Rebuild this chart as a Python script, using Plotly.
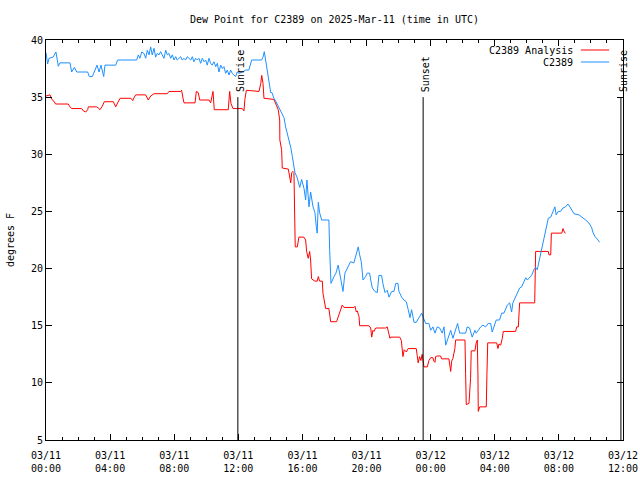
import pandas as pd
import plotly.graph_objects as go

# ---- data (hours after 2025-03-11 00:00 UTC, dew point in deg F) ----
obs_hours = [0.0, 0.1, 0.19, 0.44, 0.62, 0.69, 0.77, 0.87, 1.5, 1.6, 1.77, 1.92, 2.6, 2.7, 2.89, 3.01,
             3.18, 3.31, 3.43, 3.6, 3.68, 4.35, 4.47, 5.66, 5.76, 5.86, 5.97, 6.11, 6.22, 6.32, 6.43,
             6.53, 6.63, 6.74, 6.84, 6.94, 7.05, 7.15, 7.26, 7.36, 7.47, 7.57, 7.67, 7.78, 7.88, 7.99,
             8.09, 8.19, 8.3, 8.4, 8.5, 8.61, 8.71, 8.81, 8.92, 9.03, 9.13, 9.23, 9.34, 9.44, 9.54,
             9.65, 9.75, 9.86, 9.96, 10.06, 10.17, 10.27, 10.37, 10.48, 10.59, 10.69, 10.79, 10.9,
             11.0, 11.1, 11.21, 11.31, 11.42, 11.52, 11.62, 11.73, 11.83, 11.93, 12.04, 12.25, 12.46,
             12.66, 12.83, 13.45, 13.54, 13.62, 13.71, 13.81, 13.91, 14.02, 14.1, 14.22, 14.35, 14.53,
             14.64, 14.85, 14.95, 15.16, 15.27, 15.37, 15.47, 15.53, 15.66, 15.83, 15.95, 16.1, 16.2,
             16.28, 16.41, 16.51, 16.66, 16.78, 16.86, 16.92, 16.99, 17.07, 17.2, 17.65, 17.7, 17.78,
             17.97, 18.09, 18.23, 18.38, 18.53, 18.65, 18.8, 19.0, 19.21, 19.36, 19.48, 19.57, 19.67,
             19.78, 19.94, 20.04, 20.19, 20.26, 20.36, 20.52, 20.67, 20.77, 20.94, 21.02, 21.15, 21.29,
             21.4, 21.57, 21.71, 21.82, 21.96, 22.02, 22.19, 22.33, 22.48, 22.6, 22.71, 22.81, 22.96,
             23.1, 23.27, 23.44, 23.54, 23.69, 23.89, 24.0, 24.14, 24.27, 24.41, 24.56, 24.72, 24.83,
             24.94, 25.1, 25.25, 25.39, 25.56, 25.68, 25.81, 26.18, 26.28, 26.43, 26.59, 26.76, 26.84,
             26.97, 27.12, 27.26, 27.43, 27.59, 27.74, 27.84, 27.95, 28.09, 28.3, 28.43, 28.57, 28.68,
             28.78, 28.93, 29.05, 29.13, 29.26, 29.4, 29.55, 29.68, 29.82, 29.93, 30.03, 30.17, 30.3,
             30.44, 30.55, 30.65, 30.76, 30.86, 30.96, 31.07, 31.21, 31.34, 31.49, 31.59, 31.69, 31.75,
             31.83, 31.96, 32.11, 32.25, 32.42, 32.56, 32.73, 32.94, 33.25, 33.46, 33.67, 33.87, 34.04,
             34.12, 34.25, 34.39, 34.54]
obs_values = [38.9, 37.9, 38.4, 38.5, 38.95, 38.2, 37.7, 38.0, 38.0, 37.2, 37.6, 37.2, 37.2, 36.8, 36.8, 37.2,
              37.8, 37.2, 37.8, 36.8, 37.8, 37.8, 38.25, 38.25, 38.7, 38.4, 38.95, 38.83, 38.4, 39.1, 38.7,
              39.4, 38.7, 39.27, 38.5, 38.83, 38.7, 38.98, 38.7, 38.4, 39.1, 38.7, 38.83, 38.4, 38.7, 38.25,
              38.54, 38.25, 38.4, 38.54, 38.25, 38.4, 38.25, 38.54, 38.4, 38.25, 38.54, 38.1, 38.4, 38.25, 38.4,
              37.96, 38.4, 38.1, 38.25, 37.8, 38.4, 37.96, 37.8, 38.1, 37.67, 37.96, 37.2, 37.8,
              37.5, 37.67, 37.08, 37.37, 36.94, 37.37, 37.08, 36.94, 36.8, 37.2, 37.08, 37.2, 37.37,
              37.37, 38.25, 38.25, 38.5, 38.98, 38.25, 37.4, 36.5, 35.4, 35.4, 34.9, 34.6, 34.1,
              33.7, 33.2, 32.4, 31.25, 30.6, 29.8, 28.9, 28.4, 28.0, 27.1, 27.8, 27.0, 26.0,
              27.75, 25.4, 26.7, 25.4, 24.9, 23.7, 23.1, 25.8, 24.9, 24.25, 24.25, 21.6, 18.7,
              19.3, 19.6, 20.3, 19.0, 18.0, 19.6, 20.1, 20.6, 20.5, 21.2, 21.9, 21.2, 20.6,
              19.0, 19.3, 19.6, 19.6, 19.0, 18.3, 18.0, 17.9, 19.4, 19.4, 18.7, 17.9, 18.1,
              17.5, 18.0, 18.0, 18.7, 18.7, 18.0, 17.5, 17.25, 17.1, 16.4, 15.7, 16.4, 15.3,
              15.3, 15.7, 16.1, 15.7, 15.2, 15.2, 14.6, 14.9, 14.35, 14.9, 14.8, 14.35, 14.9,
              13.3, 14.0, 14.6, 13.9, 14.6, 15.2, 14.35, 14.35, 14.9, 14.8, 14.0, 14.6, 14.35,
              14.6, 14.9, 15.05, 14.9, 15.2, 15.2, 14.45, 14.9, 15.5, 15.5, 16.1, 16.1, 16.4,
              16.8, 17.0, 16.2, 17.0, 17.4, 17.8, 18.3, 18.4, 18.85, 19.2, 19.0, 19.2, 19.4,
              19.9, 20.1, 19.9, 20.6, 21.4, 22.1, 22.8, 23.6, 24.4, 24.5, 24.9, 25.3, 25.4,
              24.7, 25.0, 25.0, 25.3, 25.4, 25.65, 25.3, 24.8, 24.7, 24.5, 24.25, 24.0, 23.6,
              23.2, 22.8, 22.6, 22.3]

ana_hours = [0.0, 0.25, 0.36, 0.46, 0.6, 1.39, 1.5, 1.6, 2.23, 2.33, 2.48, 2.6, 2.64, 3.16, 3.26, 3.37,
             3.51, 3.64, 4.2, 4.35, 4.47, 4.62, 5.3, 5.41, 5.51, 5.6, 6.22, 6.38, 6.53, 6.74, 7.57,
             7.67, 8.4, 8.46, 8.55, 8.61, 9.3, 9.38, 9.5, 9.59, 10.17, 10.27, 10.42, 10.5, 11.37,
             11.46, 11.54, 11.67, 12.25, 12.35, 12.41, 12.5, 13.29, 13.4, 13.46, 13.54, 13.6, 14.22,
             14.37, 14.49, 14.58, 14.59, 14.7, 14.74, 15.12, 15.2, 15.27, 15.33, 15.41, 15.47, 15.53,
             15.55, 15.68, 15.78, 16.09, 16.2, 16.26, 16.36, 16.45, 16.51, 16.57, 16.78, 16.92, 16.99,
             17.07, 17.24, 17.28, 17.34, 17.45, 17.65, 17.7, 17.76, 18.13, 18.23, 18.28, 18.38, 18.48,
             18.59, 19.21, 19.28, 19.36, 19.42, 19.53, 19.57, 20.15, 20.26, 20.32, 20.4, 20.46, 20.57,
             21.19, 21.29, 21.4, 21.46, 21.5, 22.07, 22.17, 22.23, 22.27, 22.35, 22.48, 22.6, 23.1,
             23.16, 23.22, 23.31, 23.39, 23.47, 23.58, 23.79, 23.89, 24.0, 24.14, 24.2, 24.27, 24.31,
             24.41, 24.62, 24.68, 25.14, 25.2, 25.25, 25.31, 25.39, 25.45, 25.51, 25.56, 26.14, 26.18,
             26.22, 26.39, 26.49, 26.53, 26.76, 26.84, 26.91, 26.95, 26.97, 27.06, 27.47, 27.51, 27.56,
             28.12, 28.2, 28.26, 28.37, 28.47, 28.53, 29.3, 29.37, 29.47, 29.51, 29.55, 30.49, 30.5,
             30.55, 31.34, 31.38, 31.49, 31.53, 32.18, 32.26, 32.35, 32.42]
ana_values = [35.1, 35.2, 34.8, 34.7, 34.4, 34.4, 34.15, 34.0, 34.0, 33.8, 33.7, 33.9, 34.15, 34.15, 34.05, 33.9,
              34.2, 34.6, 34.6, 34.15, 34.5, 34.9, 34.9, 34.7, 35.0, 35.2, 35.2, 34.75, 35.1, 35.3, 35.3,
              35.5, 35.5, 35.6, 34.9, 34.5, 34.5, 35.5, 35.4, 34.75, 34.75, 34.5, 35.5, 33.9, 33.9,
              35.5, 34.45, 34.0, 34.0, 33.8, 34.8, 35.6, 35.5, 36.2, 36.9, 36.2, 34.9, 34.8,
              34.3, 33.9, 33.0, 31.25, 30.4, 28.8, 28.7, 28.0, 27.5, 28.4, 28.5, 28.4, 25.3,
              21.9, 21.9, 22.75, 22.75, 22.5, 21.5, 20.9, 21.5, 20.75, 19.1, 18.9, 18.9, 19.3,
              18.9, 18.9, 17.85, 17.25, 16.5, 16.5, 15.8, 15.35, 15.35, 15.8, 15.9, 16.4, 16.8,
              16.6, 16.6, 16.7, 16.2, 16.3, 15.8, 15.0, 15.0, 14.8, 14.0, 14.6, 14.5, 14.8,
              14.8, 14.9, 14.1, 13.9, 14.0, 14.0, 13.7, 13.0, 12.3, 12.9, 12.7, 13.0, 13.0,
              12.4, 11.75, 12.3, 11.95, 12.5, 11.4, 11.4, 11.95, 12.2, 12.2, 11.9, 11.8, 12.3,
              12.35, 12.35, 12.1, 12.1, 11.6, 11.0, 11.9, 12.15, 12.6, 13.0, 13.75, 13.75, 10.8,
              8.1, 8.2, 10.4, 12.8, 12.8, 13.5, 13.75, 10.7, 7.5, 7.9, 7.9, 10.7, 13.5,
              13.5, 13.0, 13.4, 13.3, 13.9, 14.5, 14.5, 14.9, 14.9, 16.1, 17.0, 17.0, 19.3,
              21.5, 21.5, 21.2, 21.2, 23.1, 23.1, 23.5, 23.15, 23.1]

sun_events = ["Sunrise", "Sunset", "Sunrise"]
sun_hours = [11.97, 23.53, 35.87]

series_names = ["C2389 Analysis", "C2389"]
series_colors = ["#ff0000", "#1e90ff"]

base = pd.Timestamp("2025-03-11 00:00")
def to_time(hours):
    return [base + pd.Timedelta(hours=h) for h in hours]

FONT = "DejaVu Sans Mono"
fig = go.Figure()
fig.add_trace(go.Scatter(x=to_time(ana_hours), y=ana_values, mode="lines",
                         line=dict(color=series_colors[0], width=1), name=series_names[0]))
fig.add_trace(go.Scatter(x=to_time(obs_hours), y=obs_values, mode="lines",
                         line=dict(color=series_colors[1], width=1), name=series_names[1]))

# sunrise / sunset markers
for name, h in zip(sun_events, sun_hours):
    t = base + pd.Timedelta(hours=h)
    fig.add_shape(type="line", xref="x", yref="y", x0=t, x1=t, y0=5, y1=35,
                  line=dict(color="black", width=1))
    fig.add_annotation(x=t, y=35, xref="x", yref="y", text=name, showarrow=False,
                       textangle=-90, xanchor="center", yanchor="bottom", xshift=2, yshift=3,
                       font=dict(family=FONT, size=10, color="black"))

# key (text to the left of line sample, like gnuplot)
key_rows = [0.975, 0.945]
for name, col, yk in zip(series_names, series_colors, key_rows):
    fig.add_annotation(x=0.916, y=yk, xref="paper", yref="paper", text=name, showarrow=False,
                       xanchor="right", yanchor="middle",
                       font=dict(family=FONT, size=10, color="black"))
    fig.add_shape(type="line", xref="paper", yref="paper", x0=0.927, x1=0.976, y0=yk, y1=yk,
                  line=dict(color=col, width=1))

fig.update_layout(
    width=640, height=480,
    margin=dict(l=46, r=17, t=40, b=40, autoexpand=False),
    paper_bgcolor="white", plot_bgcolor="white",
    showlegend=False,
    font=dict(family=FONT, size=10, color="black"),
    title=dict(text="Dew Point for C2389 on 2025-Mar-11 (time in UTC)",
               x=0.5, xref="paper", y=1 - 19 / 480, yref="container",
               xanchor="center", yanchor="middle",
               font=dict(family=FONT, size=10, color="black")),
)
fig.update_xaxes(
    range=[base, base + pd.Timedelta(hours=36)],
    tickformat="%m/%d<br>%H:%M", tick0=base, dtick=4 * 3600 * 1000,
    ticks="inside", ticklen=6, tickcolor="black", tickwidth=1,
    minor=dict(dtick=3600 * 1000, ticks="inside", ticklen=3, tickcolor="black"),
    showline=True, linecolor="black", linewidth=1, mirror="ticks",
    showgrid=False, zeroline=False, automargin=False, ticklabelstandoff=6,
    tickfont=dict(family=FONT, size=10, color="black"),
)
fig.update_yaxes(
    range=[5, 40], dtick=5, tick0=5,
    ticks="inside", ticklen=6, tickcolor="black", tickwidth=1,
    showline=True, linecolor="black", linewidth=1, mirror="ticks",
    showgrid=False, zeroline=False, automargin=False,
    title=dict(text="degrees F", font=dict(family=FONT, size=10, color="black"), standoff=14),
    tickfont=dict(family=FONT, size=10, color="black"),
)

fig.write_html("out.html")
